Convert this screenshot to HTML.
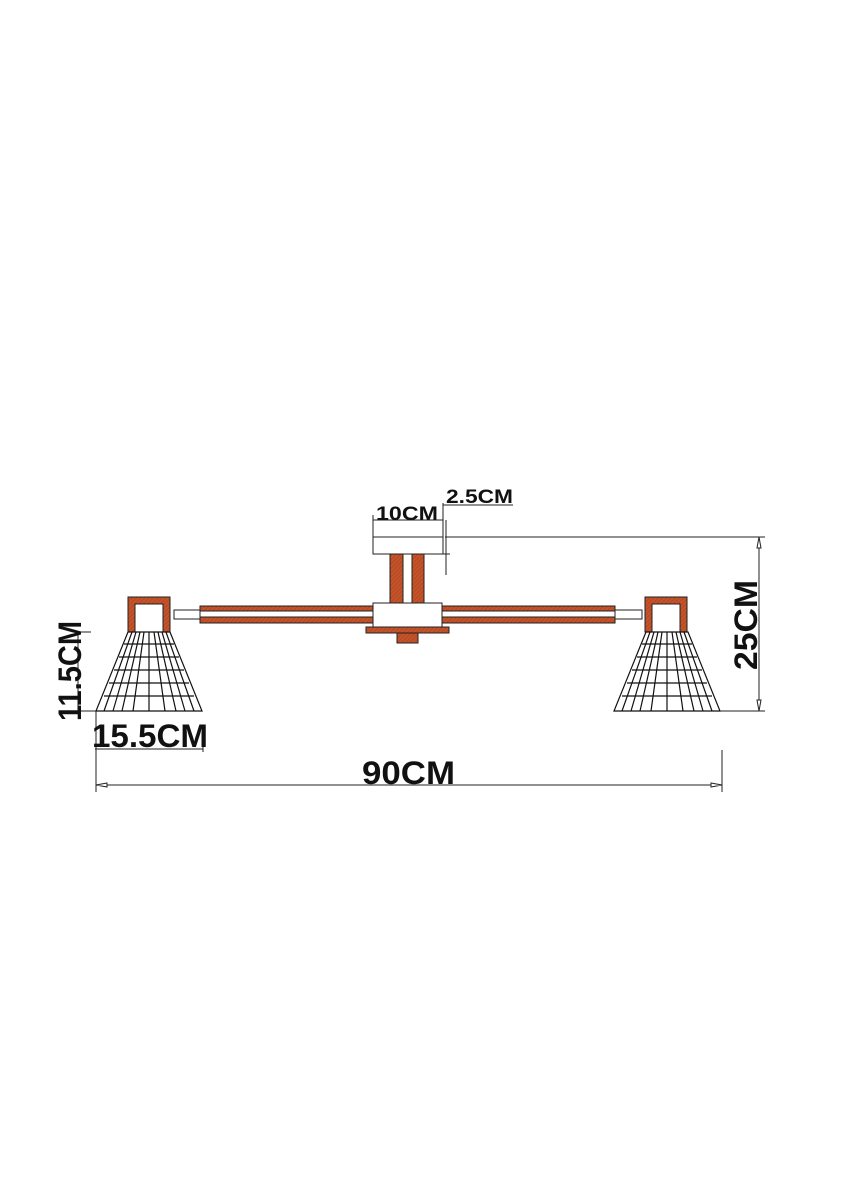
<!DOCTYPE html>
<html><head><meta charset="utf-8"><style>
html,body{margin:0;padding:0;background:#fff;}
svg{display:block;}
text{font-family:"Liberation Sans",Arial,sans-serif;fill:#111;font-weight:bold;}
</style></head><body>
<svg width="848" height="1200" viewBox="0 0 848 1200" xmlns="http://www.w3.org/2000/svg">
<defs>
<pattern id="h" width="3" height="3" patternUnits="userSpaceOnUse" patternTransform="rotate(45)">
<rect width="3" height="3" fill="#c4532a"/><line x1="0" y1="0" x2="0" y2="3" stroke="#a3401c" stroke-width="1"/>
</pattern>
<g id="shade" stroke="#111" stroke-width="1.2" fill="none">
<path d="M0 0 L42 0 L74 79 L-32 79 Z" fill="#fff"/>
<g>
<line x1="4" y1="0" x2="-24" y2="79"/><line x1="8" y1="0" x2="-15" y2="79"/><line x1="12" y1="0" x2="-6" y2="79"/>
<line x1="16" y1="0" x2="5" y2="79"/><line x1="21" y1="0" x2="21" y2="79"/><line x1="26" y1="0" x2="37" y2="79"/>
<line x1="30" y1="0" x2="48" y2="79"/><line x1="34" y1="0" x2="57" y2="79"/><line x1="38" y1="0" x2="66" y2="79"/>
<line x1="-4" y1="12" x2="46" y2="12"/><line x1="-9" y1="25" x2="51" y2="25"/><line x1="-14" y1="38" x2="56" y2="38"/>
<line x1="-19" y1="51" x2="61" y2="51"/><line x1="-24" y1="64" x2="66" y2="64"/>
</g>
</g>
</defs>
<g stroke="#222" stroke-width="1">
<rect x="373" y="537" width="70" height="17" fill="#fff"/>
<rect x="390" y="554" width="13" height="49" fill="url(#h)"/>
<rect x="412" y="554" width="12" height="49" fill="url(#h)"/>
<rect x="200" y="606" width="173" height="17" fill="url(#h)"/>
<rect x="200" y="611" width="173" height="6" fill="#fff"/>
<rect x="442" y="606" width="173" height="17" fill="url(#h)"/>
<rect x="442" y="611" width="173" height="6" fill="#fff"/>
<rect x="373" y="603" width="69" height="24" fill="#fff"/>
<rect x="366" y="627" width="83" height="6" fill="url(#h)"/>
<rect x="397" y="633" width="21" height="10" fill="url(#h)"/>
<rect x="174" y="610" width="26" height="9" fill="#fff"/>
<rect x="615" y="610" width="27" height="9" fill="#fff"/>
<path d="M128 597 H170 V632 H163 V604 H135 V632 H128 Z" fill="url(#h)"/>
<path d="M645 597 H687 V632 H680 V604 H652 V632 H645 Z" fill="url(#h)"/>
</g>
<use href="#shade" x="128" y="632"/>
<use href="#shade" x="646" y="632"/>
<g stroke="#222" stroke-width="1" fill="none">
<line x1="373" y1="515" x2="373" y2="537"/><line x1="443" y1="503" x2="443" y2="537"/>
<line x1="373" y1="520" x2="443" y2="520"/>
<line x1="443" y1="505" x2="513" y2="505"/>
<line x1="446" y1="520" x2="446" y2="575"/>
<line x1="443" y1="554" x2="450" y2="554"/>
<line x1="445" y1="537" x2="765" y2="537"/>
<line x1="720" y1="711" x2="765" y2="711"/>
<line x1="759" y1="537" x2="759" y2="711"/>
<path d="M757 548 L759 537 L761 548 Z M757 700 L759 711 L761 700 Z" fill="#fff"/>
<line x1="78" y1="632" x2="91" y2="632"/><line x1="78" y1="711" x2="96" y2="711"/>
<line x1="78" y1="632" x2="78" y2="711"/>
<line x1="95" y1="749" x2="203" y2="749"/><line x1="203" y1="740" x2="203" y2="752"/>
<line x1="96" y1="711" x2="96" y2="792"/><line x1="722" y1="750" x2="722" y2="792"/>
<line x1="96" y1="785" x2="722" y2="785"/>
<path d="M107 783 L96 785 L107 787 Z M711 783 L722 785 L711 787 Z" fill="#fff"/>
</g>
<text x="376" y="520" font-size="19" textLength="62" lengthAdjust="spacingAndGlyphs">10CM</text>
<text x="446" y="503" font-size="19" textLength="67" lengthAdjust="spacingAndGlyphs">2.5CM</text>
<text x="92" y="747" font-size="32" textLength="116" lengthAdjust="spacingAndGlyphs">15.5CM</text>
<text x="362" y="784" font-size="32" textLength="93" lengthAdjust="spacingAndGlyphs">90CM</text>
<text transform="translate(81,671) rotate(-90)" font-size="32" text-anchor="middle" textLength="100" lengthAdjust="spacingAndGlyphs">11.5CM</text>
<text transform="translate(757,625) rotate(-90)" font-size="32" text-anchor="middle" textLength="90" lengthAdjust="spacingAndGlyphs">25CM</text>
</svg>
</body></html>
